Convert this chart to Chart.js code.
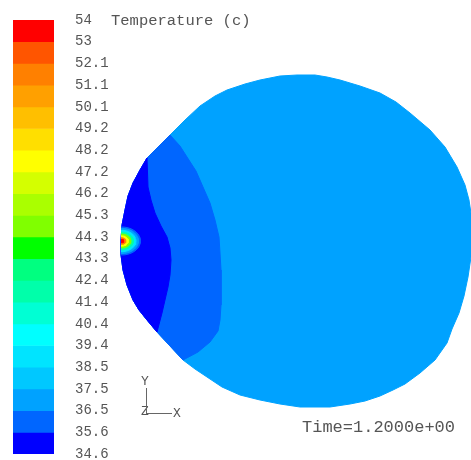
<!DOCTYPE html>
<html><head><meta charset="utf-8">
<script src="https://cdn.jsdelivr.net/npm/chart.js@4.4.1/dist/chart.umd.min.js"></script>
<style>
html,body{margin:0;padding:0;background:#fff;overflow:hidden;width:471px;height:460px;}
#wrap{position:relative;width:471px;height:460px;overflow:hidden;}
#contour,#legend{position:absolute;left:0;top:0;}
.txt{position:absolute;font-family:"Liberation Mono",monospace;color:#555;white-space:pre;line-height:1;}
.ln{position:absolute;background:#666;}
</style></head>
<body><div id="wrap">
<canvas id="contour" width="471" height="460"></canvas>
<canvas id="legend" width="130" height="470"></canvas>
<div class="txt" style="left:111px;top:14px;font-size:15.5px;">Temperature (c)</div>
<div class="txt" style="left:302px;top:419px;font-size:17px;">Time=1.2000e+00</div>
<div class="txt" style="left:141px;top:375px;font-size:13px;">Y</div>
<div class="txt" style="left:141px;top:405px;font-size:13px;">Z</div>
<div class="txt" style="left:173px;top:407px;font-size:13px;">X</div>
<div class="ln" style="left:146px;top:388px;width:1px;height:25px;"></div>
<div class="ln" style="left:146px;top:413px;width:26px;height:1px;"></div>
</div>
<script>
// Contour levels (bottom to top) and band colours
const levelLabels = ['34.6','35.6','36.5','37.5','38.5','39.4','40.4','41.4','42.4','43.3','44.3','45.3','46.2','47.2','48.2','49.2','50.1','51.1','52.1','53','54'];
const bandColors = ['#0000ff','#0066ff','#00a2ff','#00c8ff','#00e4ff','#00ffff','#00ffd4','#00ffaa','#00ff80','#00ff00','#80ff00','#aaff00','#d4ff00','#ffff00','#ffdf00','#ffbf00','#ffa000','#ff8000','#ff5500','#ff0000'];

// Domain outline (model coordinates), split into pieces
const edgeUpperLeft = [[-158,83],[-145,96],[-135,106]];
const edgeRight = [[-135,106],[-120,121],[-105,135],[-90,145],[-78,151],[-60,157],[-45,161],[-25,165],[-8,166],[10,166],[22,164],[35,161],[55,155],[75,148],[91,139],[105,128],[125,111],[140,94],[152,74],[160,56],[164,41],[167,21],[167,1],[166,-16],[163,-36],[159,-55],[154,-72],[147,-88],[142,-102],[130,-119],[115,-132],[100,-143],[88,-149],[75,-155],[60,-160],[45,-163],[25,-166],[-5,-166],[-25,-163],[-45,-159],[-65,-154],[-83,-146],[-98,-136],[-110,-128],[-122,-119]];
const edgeLowerLeft = [[-122,-119],[-135,-105],[-148,-91]];
const edgeLeftArc = [[-148,-91],[-158,-79],[-166,-69],[-172,-59],[-178,-44],[-182,-29],[-184,-14],[-184,1],[-183,16],[-180,31],[-177,45],[-172,58],[-165,71],[-158,83]];

// Isotherms
const iso36_5 = [[-135,106],[-125,95],[-118,84],[-109,70],[-102,54],[-95,38],[-90,21],[-86,4],[-85,-12],[-84,-29],[-84,-46],[-84,-64],[-85,-79],[-87,-90],[-95,-101],[-107,-111],[-122,-119]];
const iso35_6 = [[-158,83],[-157,54],[-154,41],[-150,28],[-144,15],[-138,4],[-135,-7],[-134,-19],[-135,-34],[-137,-46],[-140,-59],[-143,-72],[-148,-91]];

// Hot spot at the wall: centre, ring half-widths and band of each ring
const hotspotCenter = [-183.5, 0];
const hotspotRx = [19, 17, 14.5, 12, 9.5, 7, 4.5, 2.5];
const hotspotBand = [1, 2, 4, 7, 10, 13, 17, 19];

const toPts = pts => pts.map(([x,y]) => ({x, y}));
const closed = pts => pts.concat([pts[0]]);
function halfEllipse(c, rx, ry){
  const out = [];
  for (let a = -90; a <= 90; a += 10){
    const t = a * Math.PI / 180;
    out.push([c[0] + rx*Math.cos(t), c[1] + ry*Math.sin(t)]);
  }
  return out;
}

const shapes = [
  {pts: [].concat(edgeUpperLeft, edgeRight, edgeLowerLeft, edgeLeftArc), band: 2},
  {pts: [].concat(iso36_5, edgeLowerLeft, edgeLeftArc, edgeUpperLeft), band: 1},
  {pts: [].concat(iso35_6, edgeLeftArc), band: 0}
];
hotspotRx.forEach((rx, i) => shapes.push({pts: halfEllipse(hotspotCenter, rx, rx*0.74), band: hotspotBand[i]}));

new Chart(document.getElementById('contour'), {
  type: 'scatter',
  data: {datasets: shapes.map((s, i) => ({
    data: toPts(closed(s.pts)),
    showLine: true, fill: 'shape',
    backgroundColor: bandColors[s.band], borderColor: bandColors[s.band],
    borderWidth: 1, pointRadius: 0, order: 100 - i
  }))},
  options: {
    responsive: false, animation: false, devicePixelRatio: 1,
    layout: {padding: 0},
    plugins: {legend: {display: false}, tooltip: {enabled: false}},
    scales: {
      x: {type: 'linear', display: false, min: -305, max: 166},
      y: {type: 'linear', display: false, min: -219, max: 241}
    }
  }
});

new Chart(document.getElementById('legend'), {
  type: 'bar',
  data: {labels: ['T'], datasets: [{
    data: bandColors.map((c, i) => ({x: 'T', y: [i, i + 1]})),
    backgroundColor: bandColors, borderWidth: 0,
    barPercentage: 1, categoryPercentage: 1
  }]},
  options: {
    responsive: false, animation: false, devicePixelRatio: 1,
    layout: {padding: {left: 13, top: 20, right: 0, bottom: 16}},
    plugins: {legend: {display: false}, tooltip: {enabled: false}},
    scales: {
      x: {display: false},
      y: {
        position: 'right', min: 0, max: 20,
        grid: {display: false, drawTicks: false}, border: {display: false},
        afterBuildTicks: s => { s.ticks = levelLabels.map((l, i) => ({value: i})); },
        afterFit: s => { s.width = 76; s.paddingTop = 0; s.paddingBottom = 0; },
        ticks: {padding: 21, color: '#555', autoSkip: false,
          font: {family: 'Liberation Mono', size: 14},
          callback: v => levelLabels[v]}
      }
    }
  }
});
</script>
</body></html>
